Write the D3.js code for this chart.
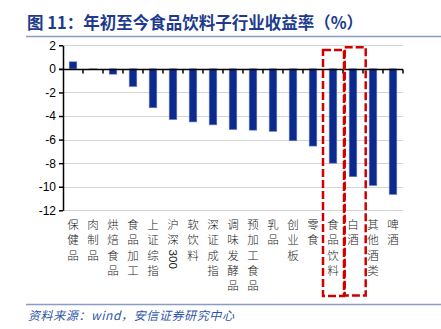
<!DOCTYPE html>
<html>
<head>
<meta charset="utf-8">
<script src="https://cdn.jsdelivr.net/npm/d3@7"></script>
<style>
  html, body { margin: 0; padding: 0; background: #fff; }
  svg { display: block; }
</style>
</head>
<body>
<svg id="chart" width="441" height="329"></svg>
<script>
// Year-to-date returns of food & beverage sub-industries and benchmark indices (%)
const categories = [
  "保健品", "肉制品", "烘焙食品", "食品加工", "上证综指", "沪深300", "软饮料",
  "深证成指", "调味发酵品", "预加工食品", "乳品", "创业板", "零食",
  "食品饮料", "白酒", "其他酒类", "啤酒"
];
const returns = [
  0.6, -0.05, -0.45, -1.5, -3.3, -4.3, -4.5,
  -4.75, -5.15, -5.2, -5.3, -6.1, -6.55,
  -8.0, -9.15, -9.9, -10.65
];
const yTicks = [2, 0, -2, -4, -6, -8, -10, -12];
const highlighted = ["食品饮料", "白酒"];

const svg = d3.select("#chart");

// Title block
svg.append("text")
  .attr("x", 27).attr("y", 29)
  .attr("font-family", "'Noto Sans CJK SC', sans-serif")
  .attr("font-size", 16.5).attr("font-weight", "bold")
  .attr("fill", "#1d3b8c")
  .text("图 11：年初至今食品饮料子行业收益率（%）");
svg.append("line")
  .attr("x1", 26).attr("x2", 441).attr("y1", 36.5).attr("y2", 36.5)
  .attr("stroke", "#8a9cc6").attr("stroke-width", 1.5);

// Footer
svg.append("line")
  .attr("x1", 26).attr("x2", 441).attr("y1", 304.5).attr("y2", 304.5)
  .attr("stroke", "#8a9cc6").attr("stroke-width", 1.5);
svg.append("text")
  .attr("x", 28).attr("y", 320)
  .attr("font-family", "'Noto Sans CJK SC', sans-serif")
  .attr("font-size", 12).attr("font-style", "italic")
  .attr("letter-spacing", 0.6)
  .attr("fill", "#2d56a8")
  .text("资料来源：wind，安信证券研究中心");

// Scales
const plotLeft = 63, plotRight = 403;
const x = d3.scaleBand().domain(categories).range([plotLeft, plotRight]).padding(0);
const y = d3.scaleLinear().domain([-12, 2]).range([210.3, 45.3]);
const bw = x.bandwidth();

// Gridlines
svg.append("g").selectAll("line").data(yTicks.filter(t => t !== 0)).join("line")
  .attr("x1", plotLeft).attr("x2", plotRight)
  .attr("y1", d => Math.round(y(d)) + 0.5).attr("y2", d => Math.round(y(d)) + 0.5)
  .attr("stroke", "#d4d4d4").attr("stroke-width", 1);

// Bars
svg.append("g").selectAll("rect").data(categories).join("rect")
  .attr("x", d => x(d) + bw * 0.31)
  .attr("width", bw * 0.38)
  .attr("y", (d, i) => y(Math.max(0, returns[i])))
  .attr("height", (d, i) => Math.abs(y(returns[i]) - y(0)))
  .attr("fill", "#0c2a8e")
  .attr("stroke", "#6a7cc4").attr("stroke-width", 0.6);

// Y axis
const yAxis = d3.axisLeft(y).tickValues(yTicks).tickSize(4).tickSizeOuter(0)
  .tickFormat(d3.format("d"));
const gy = svg.append("g").attr("transform", `translate(${plotLeft},0)`).call(yAxis);
gy.select(".domain").attr("stroke", "#000").attr("stroke-width", 1.5);
gy.selectAll(".tick line").attr("stroke", "#000").attr("stroke-width", 1.5);
gy.selectAll(".tick text")
  .attr("font-family", "Arial, 'Liberation Sans', sans-serif")
  .attr("font-size", 12).attr("fill", "#000").attr("x", -7)
  .text(d => d < 0 ? "-" + Math.abs(d) : d);

// Zero axis with category boundary ticks
const zeroY = Math.round(y(0)) + 0.5;
svg.append("line")
  .attr("x1", plotLeft - 4).attr("x2", plotRight).attr("y1", zeroY).attr("y2", zeroY)
  .attr("stroke", "#000").attr("stroke-width", 1.5);
const boundaries = categories.map(c => x(c) + bw);
svg.append("g").selectAll("line").data(boundaries).join("line")
  .attr("x1", d => d).attr("x2", d => d)
  .attr("y1", zeroY).attr("y2", zeroY + 4)
  .attr("stroke", "#000").attr("stroke-width", 1.5);

// Vertical category labels (one character per row)
const labelFont = "'Noto Sans CJK SC', sans-serif";
const rowStart = 229, rowStep = 15.3;
categories.forEach(c => {
  const cx = x(c) + bw / 2;
  const g = svg.append("g");
  const m = c.match(/^(.*?)(\d+)$/);
  const chars = m ? Array.from(m[1]) : Array.from(c);
  chars.forEach((ch, i) => {
    g.append("text")
      .attr("x", cx).attr("y", rowStart + i * rowStep)
      .attr("text-anchor", "middle")
      .attr("font-family", labelFont).attr("font-size", 11.5)
      .attr("font-weight", 300)
      .attr("fill", "#222")
      .text(ch);
  });
  if (m) {
    // digits run top-to-bottom, rotated clockwise
    const top = rowStart + chars.length * rowStep - 10;
    g.append("text")
      .attr("transform", `translate(${cx - 4},${top}) rotate(90)`)
      .attr("font-family", "Arial, 'Liberation Sans', sans-serif")
      .attr("font-size", 11.5).attr("fill", "#222")
      .text(m[2]);
  }
});

// Dashed highlight frames around selected categories
const frames = [
  { key: highlighted[0], dx0: 0, dx1: 1, top: 50, bottom: 296 },
  { key: highlighted[1], dx0: 1.7, dx1: 2.7, top: 47.3, bottom: 295.5 }
];
svg.append("g").selectAll("rect").data(frames).join("rect")
  .attr("x", d => x(d.key) + d.dx0)
  .attr("y", d => d.top)
  .attr("width", d => bw - d.dx0 + d.dx1)
  .attr("height", d => d.bottom - d.top)
  .attr("fill", "none")
  .attr("stroke", "#d00000").attr("stroke-width", 2.5)
  .attr("stroke-dasharray", "8,3");
</script>
</body>
</html>
